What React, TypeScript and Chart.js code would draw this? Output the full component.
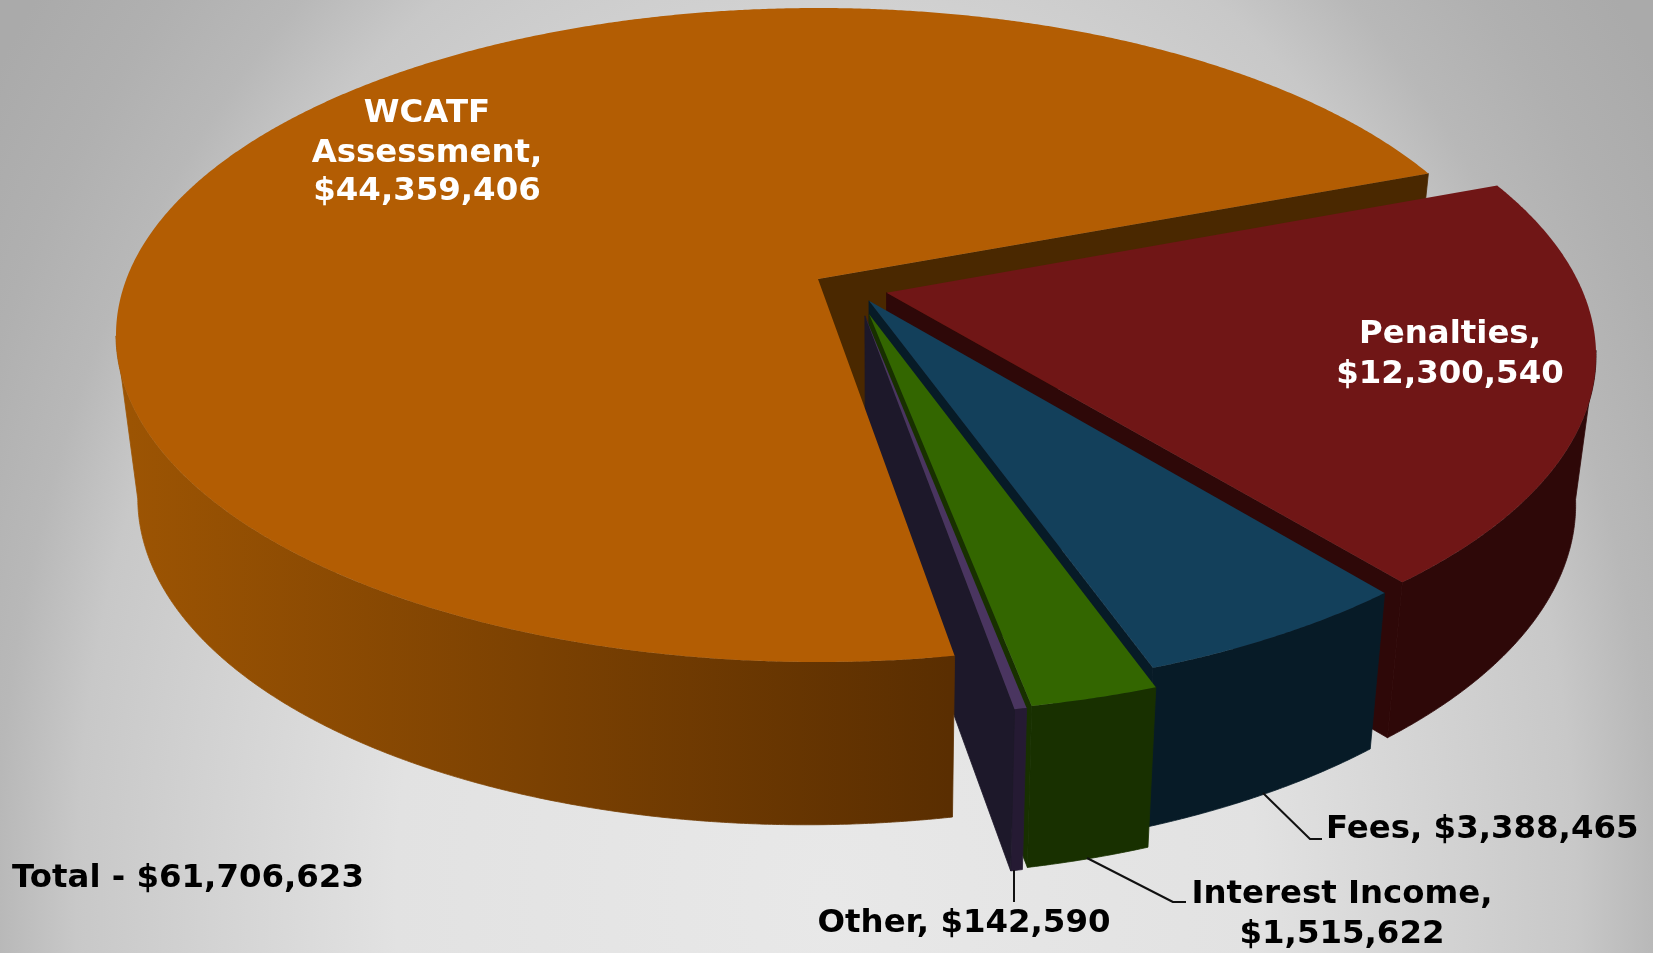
import React, { useEffect, useRef } from "react";
import { Chart, registerables } from "chart.js";

Chart.register(...registerables);

const categories = ["WCATF Assessment", "Penalties", "Fees", "Interest Income", "Other"];
const revenue = [44359406, 12300540, 3388465, 1515622, 142590];
const explodePx = [27.4, 22, 19.7, 37.5, 38.8];
const topColors = ["#B35D03", "#701616", "#13405B", "#336600", "#4A3560"];
const rimColors = [["#9C5403", "#5A2E01"], ["#2E0808", "#2E0808"], ["#071B27", "#071B27"], ["#183000", "#183000"], ["#251A33", "#251A33"]];
const faceColors = ["#4A2800", "#2E0808", "#071B27", "#183000", "#1D182A"];
const totalLabel = "Total - $61,706,623";
const FONT = 'bold 32.4px "DejaVu Sans"';

const money = (v: number) => "$" + v.toLocaleString("en-US");

// Perspective of the disc: ellipse of the image and the shift of the disc centre inside it
const CX = 818, CY = 335, RX = 702, RY = 327, P = 0.171;
const project = (u: number, v: number) => {
  const d = 1 - P * v;
  return { x: CX + (RX * u * Math.sqrt(1 - P * P)) / d, y: CY + (RY * (v - P)) / d };
};
const lower = (p: { x: number; y: number }) => ({
  x: p.x - 0.0285 * (p.x - 880),
  y: p.y + 157.6 - 0.00962 * p.x + 0.0196 * p.y,
});

const pie3d = {
  id: "pie3d",
  beforeDatasetsDraw(chart: any) {
    const ctx = chart.ctx as CanvasRenderingContext2D;
    const arcs = chart.getDatasetMeta(0).data as any[];
    const mid = (a: any) => (a.startAngle + a.endAngle) / 2;
    const e0 = arcs[0].options.offset / arcs[0].outerRadius;
    const tx = -e0 * Math.cos(mid(arcs[0]));
    const ty = -e0 * Math.sin(mid(arcs[0]));
    const pt = (a: any, r: number, ang: number) => {
      const e = a.options.offset / a.outerRadius;
      return project(r * Math.cos(ang) + e * Math.cos(mid(a)) + tx, r * Math.sin(ang) + e * Math.sin(mid(a)) + ty);
    };
    const fillPoly = (pts: { x: number; y: number }[], fill: any, seal = false) => {
      ctx.beginPath();
      pts.forEach((p, i) => (i ? ctx.lineTo(p.x, p.y) : ctx.moveTo(p.x, p.y)));
      ctx.closePath();
      ctx.fillStyle = fill;
      ctx.fill();
      if (seal) {
        ctx.strokeStyle = fill;
        ctx.lineWidth = 0.8;
        ctx.lineJoin = "round";
        ctx.stroke();
      }
    };
    const arcPts = (a: any, s: number, e: number) => {
      const n = Math.max(2, Math.ceil((e - s) / 0.005));
      const out = [];
      for (let i = 0; i <= n; i++) out.push(pt(a, 1, s + ((e - s) * i) / n));
      return out;
    };
    const top = (i: number) => {
      const a = arcs[i];
      fillPoly([pt(a, 0, 0), ...arcPts(a, a.startAngle, a.endAngle)], topColors[i]);
    };
    const rim = (i: number) => {
      const a = arcs[i];
      const lo = (10 * Math.PI) / 180, hi = (170 * Math.PI) / 180;
      for (let k = -1; k <= 2; k++) {
        const s = Math.max(a.startAngle, lo + 2 * Math.PI * k);
        const e = Math.min(a.endAngle, hi + 2 * Math.PI * k);
        if (e <= s) continue;
        const pts = arcPts(a, s, e);
        const g = ctx.createLinearGradient(130, 0, 950, 0);
        g.addColorStop(0, rimColors[i][0]);
        g.addColorStop(1, rimColors[i][1]);
        fillPoly([...pts, ...pts.slice().reverse().map(lower)], g, true);
      }
    };
    const endFace = (i: number) => {
      const a = arcs[i];
      const c = pt(a, 0, 0);
      const o = pt(a, 1, a.endAngle);
      fillPoly([c, o, lower(o), lower(c)], faceColors[i], true);
    };

    endFace(0);
    for (let i = 1; i < arcs.length; i++) {
      rim(i);
      endFace(i);
      top(i);
    }
    rim(0);
    top(0);

    // Leader lines
    ctx.strokeStyle = "#111";
    ctx.lineWidth = 2;
    [
      [[1263, 793], [1310, 839], [1322, 839]],
      [[1087, 858], [1173, 902], [1186, 902]],
      [[1014, 870], [1014, 902]],
    ].forEach((l) => {
      ctx.beginPath();
      l.forEach((p, i) => (i ? ctx.lineTo(p[0], p[1]) : ctx.moveTo(p[0], p[1])));
      ctx.stroke();
    });

    // Labels
    ctx.font = FONT;
    ctx.textBaseline = "middle";
    const text = (s: string, x: number, y: number, color: string, align: CanvasTextAlign) => {
      ctx.fillStyle = color;
      ctx.textAlign = align;
      ctx.fillText(s, x, y);
    };
    text("WCATF", 427, 114, "#fff", "center");
    text("Assessment,", 427, 154, "#fff", "center");
    text(money(revenue[0]), 427, 192, "#fff", "center");
    text(categories[1] + ",", 1450, 335, "#fff", "center");
    text(money(revenue[1]), 1450, 375, "#fff", "center");
    text(categories[2] + ", " + money(revenue[2]), 1326, 830, "#000", "left");
    text(categories[3] + ",", 1342, 895, "#000", "center");
    text(money(revenue[3]), 1342, 935, "#000", "center");
    text(categories[4] + ", " + money(revenue[4]), 964, 924, "#000", "center");
    text(totalLabel, 12, 879, "#000", "left");
    return false;
  },
};

export default function App() {
  const ref = useRef<HTMLCanvasElement>(null);
  useEffect(() => {
    const chart = new Chart(ref.current as HTMLCanvasElement, {
      type: "pie",
      data: {
        labels: categories,
        datasets: [{ data: revenue, backgroundColor: topColors, borderWidth: 0, offset: explodePx }],
      },
      options: {
        responsive: false,
        animation: false,
        rotation: 170.55,
        plugins: { legend: { display: false }, tooltip: { enabled: false } },
      },
      plugins: [pie3d],
    } as any);
    return () => chart.destroy();
  }, []);
  return (
    <div
      style={{
        position: "fixed",
        left: 0,
        top: 0,
        width: 1653,
        height: 953,
        overflow: "hidden",
        background:
          "radial-gradient(ellipse 1000px 1400px at 826px 900px, #E8E8E8 0%, #E2E2E2 43%, #C8C8C8 75%, #B8B8B8 83%, #B0B0B0 92%, #AAAAAA 102%)",
      }}
    >
      <canvas ref={ref} width={1653} height={953} style={{ display: "block" }} />
    </div>
  );
}
